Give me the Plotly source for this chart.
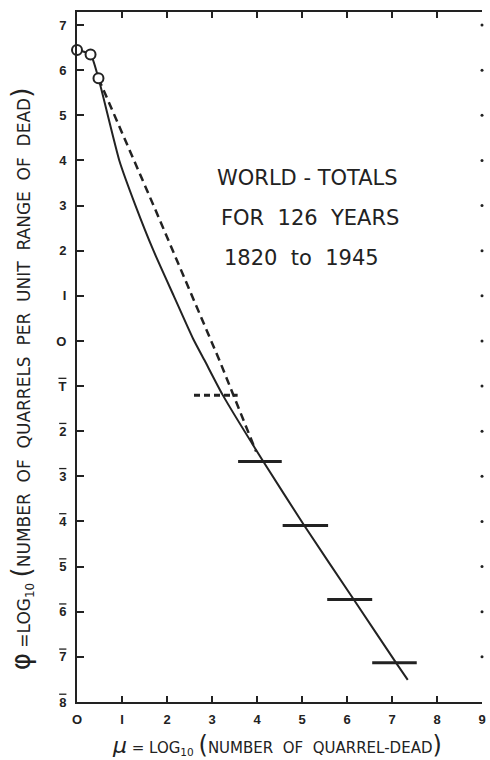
import plotly.graph_objects as go

# Observed points (open circles)
circle_mu = [0.0, 0.301, 0.477]
circle_phi = [6.45, 6.35, 5.82]

# Solid fitted curve
curve_mu = [0.0, 0.301, 0.477, 0.94, 1.30, 1.70, 2.15, 2.58, 2.84, 3.24, 4.14, 5.05, 6.15, 7.11, 7.35]
curve_phi = [6.45, 6.35, 5.82, 4.00, 3.00, 2.00, 1.00, 0.05, -0.44, -1.20, -2.67, -4.09, -5.73, -7.16, -7.51]

# Dashed curve
dash_mu = [0.477, 1.75, 3.17, 3.98]
dash_phi = [5.82, 2.89, -0.44, -2.45]

# Grouped data: horizontal bars (range of mu)
bar_phi = [-2.67, -4.09, -5.73, -7.13]
bar_lo = [3.58, 4.57, 5.56, 6.56]
bar_hi = [4.55, 5.58, 6.56, 7.55]

# Dashed bar
dbar_phi = [-1.20]
dbar_lo = [2.60]
dbar_hi = [3.57]

x_ticks = [0, 1, 2, 3, 4, 5, 6, 7, 8, 9]
x_labels = ["O", "I", "2", "3", "4", "5", "6", "7", "8", "9"]
y_ticks = [7, 6, 5, 4, 3, 2, 1, 0, -1, -2, -3, -4, -5, -6, -7, -8]
OV = "<span style='text-decoration:overline'>{}</span>"
y_labels = ["7", "6", "5", "4", "3", "2", "I", "O"] + [OV.format(d) for d in ["T", "2", "3", "4", "5", "6", "7", "8"]]
right_dots = [7, 6, 5, 4, 3, 2, 1, 0, -1, -2, -3, -4, -5, -6, -7]

title_lines = ["WORLD - TOTALS", "FOR  126  YEARS", "1820  to  1945"]
title_mu = [5.12, 5.17, 4.98]
title_phi = [3.62, 2.73, 1.84]

fig = go.Figure()

def segs(lo, hi, v):
    xs, ys = [], []
    for a, b, c in zip(lo, hi, v):
        xs += [a, b, None]
        ys += [c, c, None]
    return xs, ys

bx, by = segs(bar_lo, bar_hi, bar_phi)
dbx, dby = segs(dbar_lo, dbar_hi, dbar_phi)

fig.add_trace(go.Scatter(x=curve_mu, y=curve_phi, mode="lines",
                         line=dict(color="#222", width=2, shape="spline", smoothing=0.5),
                         cliponaxis=False))
fig.add_trace(go.Scatter(x=dash_mu, y=dash_phi, mode="lines",
                         line=dict(color="#222", width=2.5, dash="8px,5px"),
                         cliponaxis=False))
fig.add_trace(go.Scatter(x=bx, y=by, mode="lines",
                         line=dict(color="#222", width=3)))
fig.add_trace(go.Scatter(x=dbx, y=dby, mode="lines",
                         line=dict(color="#222", width=3, dash="6px,4px")))
fig.add_trace(go.Scatter(x=circle_mu, y=circle_phi, mode="markers",
                         marker=dict(symbol="circle", size=10, color="white",
                                     line=dict(color="#222", width=2)),
                         cliponaxis=False))
fig.add_trace(go.Scatter(x=[9] * len(right_dots), y=right_dots, mode="markers",
                         marker=dict(symbol="circle", size=3, color="#222"),
                         cliponaxis=False))

for t, xm, yp in zip(title_lines, title_mu, title_phi):
    fig.add_annotation(x=xm, y=yp, text=t, showarrow=False, xanchor="center", yanchor="middle",
                       font=dict(family="DejaVu Sans", size=21, color="#222"))

fig.add_annotation(xref="paper", yref="paper", x=0.494, y=-0.063, showarrow=False,
                   xanchor="center", yanchor="middle",
                   text="<i><span style='font-size:22px'>\u03bc</span></i> = LOG<sub>10</sub> "
                        "<span style='font-size:24px'>(</span>NUMBER  OF  QUARREL-DEAD"
                        "<span style='font-size:24px'>)</span>",
                   font=dict(family="DejaVu Sans", size=15, color="#222"))

fig.add_annotation(xref="paper", yref="paper", x=-0.138, y=0.468, showarrow=False,
                   textangle=-90, xanchor="center", yanchor="middle",
                   text="<span style='font-size:26px'>\u03c6</span> =LOG<sub>10</sub> "
                        "<span style='font-size:26px'>(</span>NUMBER  OF  QUARRELS  PER  UNIT  RANGE  OF  DEAD"
                        "<span style='font-size:26px'>)</span>",
                   font=dict(family="DejaVu Sans", size=17, color="#222"))

fig.update_layout(
    width=490, height=760,
    margin=dict(l=77, r=4, t=12, b=58),
    paper_bgcolor="white", plot_bgcolor="white",
    showlegend=False,
    xaxis=dict(range=[0, 9], tickvals=x_ticks, ticktext=x_labels, ticks="inside",
               ticklen=6, tickwidth=2, tickcolor="#222", showline=True, linewidth=2,
               linecolor="#222", mirror="ticks", showgrid=False, zeroline=False,
               tickfont=dict(family="Liberation Sans", size=13, color="#222", weight="bold"),
               ticklabelstandoff=4),
    yaxis=dict(range=[-8, 7.29], tickvals=y_ticks, ticktext=y_labels, ticks="inside",
               ticklen=7, tickwidth=2, tickcolor="#222", showline=True, linewidth=2,
               linecolor="#222", mirror=False, showgrid=False, zeroline=False,
               tickfont=dict(family="Liberation Sans", size=13, color="#222", weight="bold"),
               ticklabelstandoff=6),
)

fig.write_html("out.html", config={"displayModeBar": False},
               post_script="document.body.style.margin='0px';document.body.style.overflow='hidden';")
